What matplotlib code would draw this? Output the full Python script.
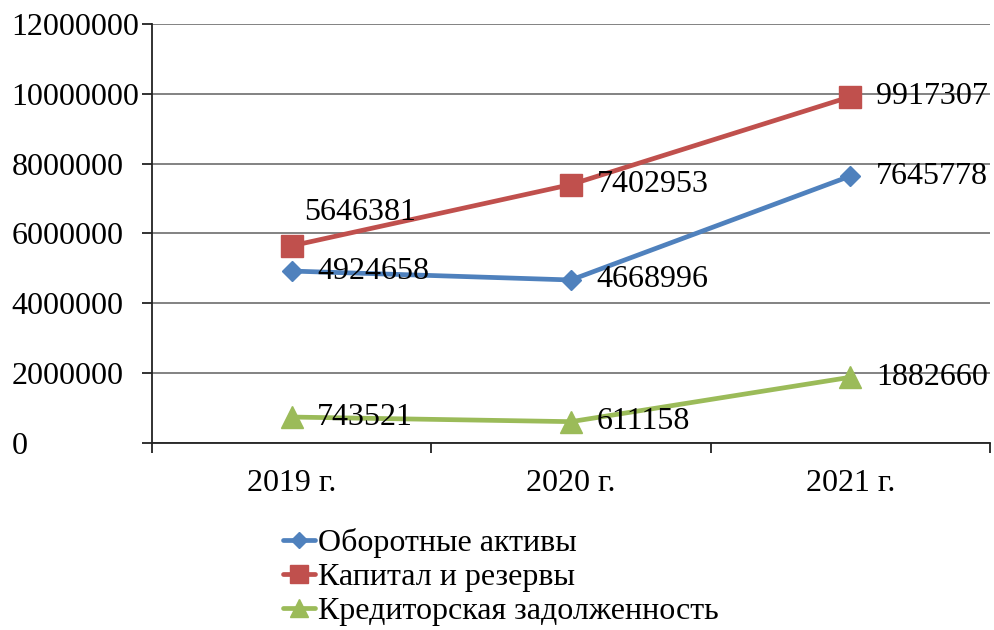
import matplotlib
matplotlib.use("Agg")
import matplotlib.pyplot as plt
from matplotlib.ticker import FixedLocator

plt.rcParams['font.family'] = ['Liberation Serif', 'DejaVu Serif']

# данные
years = ["2019 г.", "2020 г.", "2021 г."]
oborotnye = [4924658, 4668996, 7645778]
kapital = [5646381, 7402953, 9917307]
kreditorka = [743521, 611158, 1882660]
yticks = [0, 2000000, 4000000, 6000000, 8000000, 10000000, 12000000]

series = [
    ("Оборотные активы", oborotnye, "#4F81BD", "D", 10),
    ("Капитал и резервы", kapital, "#C0504D", "s", 16),
    ("Кредиторская задолженность", kreditorka, "#9BBB59", "^", 16),
]

# смещения подписей (в пунктах), по умолчанию справа от точки
label_offsets = {("Капитал и резервы", 0): (9, 24)}

fig = plt.figure(figsize=(9.94, 6.3), dpi=100)
ax = fig.add_axes([152 / 994, (630 - 443) / 630, (990 - 152) / 994, (443 - 24) / 630])

x = list(range(len(years)))
for name, vals, col, mk, ms in series:
    ax.plot(x, vals, color=col, lw=3.4, marker=mk, markersize=ms,
            markerfacecolor=col, markeredgecolor=col, label=name, zorder=3,
            solid_capstyle='round')
    for i, v in enumerate(vals):
        off = label_offsets.get((name, i), (18.5, 0))
        ax.annotate(str(v), (x[i], v), xytext=off, textcoords='offset points',
                    ha='left', va='center', fontsize=23, color='black', zorder=4)

ax.set_xlim(-0.5, 2.5)
ax.set_ylim(0, 12000000)
ax.set_yticks(yticks)
ax.set_yticklabels([str(t) for t in yticks])
ax.yaxis.grid(True, color='#828282', lw=1.4)
ax.set_axisbelow(True)

ax.set_xticks(x)
ax.set_xticklabels(years)
ax.xaxis.set_minor_locator(FixedLocator([-0.5, 0.5, 1.5, 2.5]))
ax.tick_params(axis='x', which='major', length=0, pad=19, labelsize=23)
ax.tick_params(axis='x', which='minor', length=7, width=1.3, direction='out', color='#222222')
ax.tick_params(axis='y', length=7, width=1.3, direction='out', color='#222222', labelsize=23, pad=94)
for tl in ax.get_yticklabels():
    tl.set_horizontalalignment('left')

for s in ['top', 'right']:
    ax.spines[s].set_visible(False)
for s in ['left', 'bottom']:
    ax.spines[s].set_color('#222222')
    ax.spines[s].set_linewidth(1.3)

leg = fig.legend(loc='center left', bbox_to_anchor=(283 / 994, 1 - 577 / 630),
                 frameon=False, fontsize=23, handlelength=1.0, handletextpad=0.1,
                 labelspacing=0.15, borderpad=0, borderaxespad=0, markerscale=0.85)

fig.savefig("out.png", dpi=100, facecolor='white')
